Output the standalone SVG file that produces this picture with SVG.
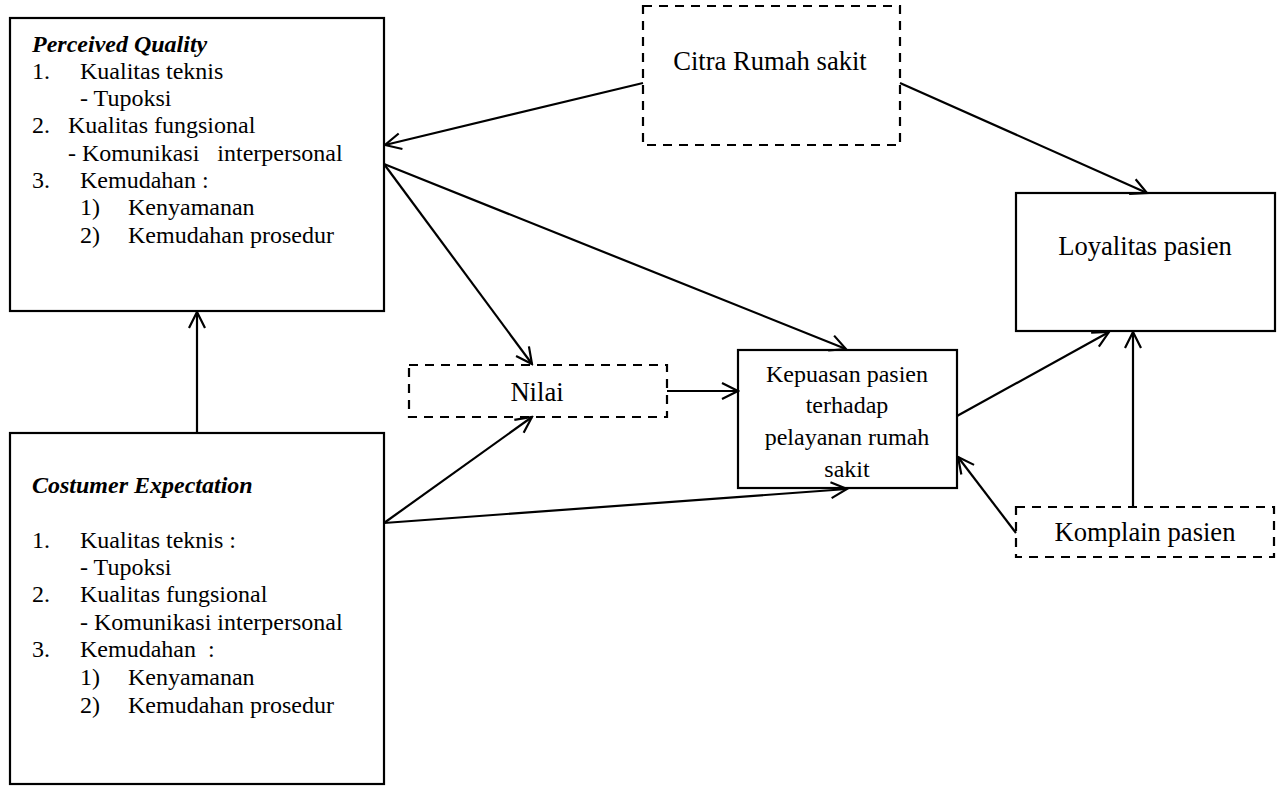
<svg xmlns="http://www.w3.org/2000/svg" width="1283" height="787" viewBox="0 0 1283 787">
<style>
text{font-family:"Liberation Serif","Times New Roman",serif;font-size:24px;fill:#000}
.bi{font-weight:bold;font-style:italic}
.lg{font-size:26.6px}
.box{fill:#fff;stroke:#000;stroke-width:2.2}
.dash{fill:#fff;stroke:#000;stroke-width:2.2;stroke-dasharray:9 7}
.c{text-anchor:middle}
.ln{fill:none;stroke:#000;stroke-width:2.2}
</style>
<defs>
<marker id="ah" viewBox="0 0 20 20" refX="18" refY="10" markerWidth="20" markerHeight="20" markerUnits="userSpaceOnUse" orient="auto">
<path d="M2,2 L18,10 L2,18" fill="none" stroke="#000" stroke-width="2.2"/>
</marker>
</defs>
<rect width="1283" height="787" fill="#fff"/>
<g id="pq">
<rect class="box" x="10" y="18" width="374" height="293"/>
<text class="bi" x="32" y="52">Perceived Quality</text>
<text x="32" y="79">1.</text><text x="80" y="79">Kualitas teknis</text>
<text x="80" y="106">- Tupoksi</text>
<text x="32" y="133">2.</text><text x="68" y="133">Kualitas fungsional</text>
<text x="68" y="161" xml:space="preserve">- Komunikasi   interpersonal</text>
<text x="32" y="188">3.</text><text x="80" y="188">Kemudahan :</text>
<text x="80" y="215">1)</text><text x="128" y="215">Kenyamanan</text>
<text x="80" y="243">2)</text><text x="128" y="243">Kemudahan prosedur</text>
</g>
<g id="ce">
<rect class="box" x="10" y="433" width="374" height="351"/>
<text class="bi" x="32" y="493">Costumer Expectation</text>
<text x="32" y="548">1.</text><text x="80" y="548">Kualitas teknis :</text>
<text x="80" y="575">- Tupoksi</text>
<text x="32" y="602">2.</text><text x="80" y="602">Kualitas fungsional</text>
<text x="80" y="630">- Komunikasi interpersonal</text>
<text x="32" y="657">3.</text><text x="80" y="657" xml:space="preserve">Kemudahan  :</text>
<text x="80" y="685">1)</text><text x="128" y="685">Kenyamanan</text>
<text x="80" y="713">2)</text><text x="128" y="713">Kemudahan prosedur</text>
</g>
<g id="citra">
<rect class="dash" x="643" y="6" width="257" height="139"/>
<text class="c lg" x="770" y="70">Citra Rumah sakit</text>
</g>
<g id="nilai">
<rect class="dash" x="409" y="365" width="258" height="52"/>
<text class="c lg" x="537" y="401">Nilai</text>
</g>
<g id="kepuasan">
<rect class="box" x="738" y="350" width="219" height="138"/>
<text class="c" x="847" y="382">Kepuasan pasien</text>
<text class="c" x="847" y="413">terhadap</text>
<text class="c" x="847" y="445">pelayanan rumah</text>
<text class="c" x="847" y="477">sakit</text>
</g>
<g id="loyalitas">
<rect class="box" x="1016" y="193" width="259" height="138"/>
<text class="c lg" x="1145" y="255">Loyalitas pasien</text>
</g>
<g id="komplain">
<rect class="dash" x="1016" y="507" width="258" height="50"/>
<text class="c lg" x="1145" y="541">Komplain pasien</text>
</g>
<g id="connectors">
<line class="ln" x1="197" y1="433" x2="197" y2="312" marker-end="url(#ah)"/>
<line class="ln" x1="643" y1="83" x2="385" y2="145" marker-end="url(#ah)"/>
<line class="ln" x1="900" y1="83" x2="1147" y2="193" marker-end="url(#ah)"/>
<line class="ln" x1="384" y1="164" x2="532" y2="364" marker-end="url(#ah)"/>
<line class="ln" x1="384" y1="164" x2="846" y2="349" marker-end="url(#ah)"/>
<line class="ln" x1="384" y1="523" x2="532" y2="417" marker-end="url(#ah)"/>
<line class="ln" x1="384" y1="523" x2="847" y2="489" marker-end="url(#ah)"/>
<line class="ln" x1="667" y1="391" x2="738" y2="391" marker-end="url(#ah)"/>
<line class="ln" x1="957" y1="416" x2="1109" y2="332" marker-end="url(#ah)"/>
<line class="ln" x1="1016" y1="533" x2="958" y2="457" marker-end="url(#ah)"/>
<line class="ln" x1="1133" y1="507" x2="1133" y2="332" marker-end="url(#ah)"/>
</g>
</svg>
